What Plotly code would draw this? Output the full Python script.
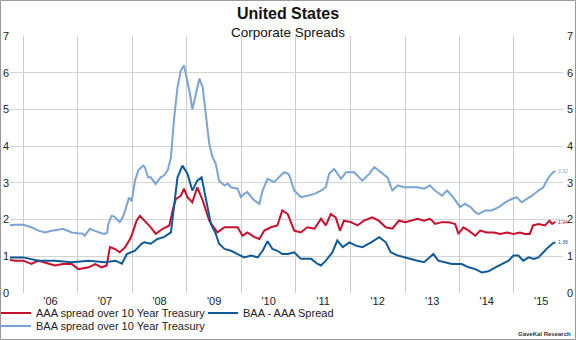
import datetime as dt
import plotly.graph_objects as go

# ---------------- data (decimal years, values in % points) ----------------
baa_t = [2005.74, 2005.85, 2006.0, 2006.08, 2006.15, 2006.28, 2006.35, 2006.40, 2006.50, 2006.58,
         2006.66, 2006.73, 2006.80, 2006.89, 2007.0, 2007.08, 2007.13, 2007.18, 2007.22, 2007.30,
         2007.38, 2007.45, 2007.50, 2007.54, 2007.56, 2007.62, 2007.67, 2007.71, 2007.77, 2007.82,
         2007.87, 2007.94, 2007.99, 2008.05, 2008.11, 2008.20, 2008.23, 2008.29, 2008.34, 2008.43,
         2008.52, 2008.58, 2008.65, 2008.71, 2008.77, 2008.83, 2008.89, 2008.95, 2008.98, 2009.01,
         2009.06, 2009.10, 2009.17, 2009.23, 2009.29, 2009.35, 2009.41, 2009.47, 2009.53, 2009.59,
         2009.69, 2009.75, 2009.81, 2009.93, 2009.99, 2010.05, 2010.11, 2010.18, 2010.24, 2010.33,
         2010.39, 2010.48, 2010.60, 2010.72, 2010.79, 2010.85, 2010.88, 2010.97, 2011.09, 2011.21,
         2011.34, 2011.46, 2011.55, 2011.61, 2011.70, 2011.83, 2011.92, 2012.07, 2012.22, 2012.35,
         2012.44, 2012.56, 2012.68, 2012.77, 2012.87, 2012.99, 2013.11, 2013.23, 2013.35, 2013.46,
         2013.55, 2013.68, 2013.77, 2013.86, 2013.95, 2014.01, 2014.10, 2014.20, 2014.29, 2014.35,
         2014.47, 2014.59, 2014.72, 2014.84, 2014.96, 2015.05, 2015.14, 2015.24, 2015.33, 2015.45,
         2015.54, 2015.60, 2015.66, 2015.72, 2015.76]
baa_v = [1.84, 1.86, 1.86, 1.82, 1.79, 1.70, 1.66, 1.65, 1.69, 1.70,
         1.73, 1.75, 1.70, 1.65, 1.63, 1.62, 1.56, 1.68, 1.75, 1.70,
         1.65, 1.62, 1.61, 1.65, 1.88, 2.10, 2.08, 2.02, 1.93, 2.05,
         2.25, 2.60, 2.50, 3.06, 3.34, 3.47, 3.43, 3.15, 3.15, 2.97,
         3.15, 3.20, 3.34, 3.70, 4.80, 5.60, 6.06, 6.20, 6.00, 5.80,
         5.40, 5.00, 5.50, 5.84, 5.60, 4.88, 4.06, 3.70, 3.52, 3.06,
         2.93, 2.98, 2.88, 2.84, 2.61, 2.70, 2.75, 2.62, 2.52, 2.43,
         2.79, 3.11, 3.02, 3.20, 3.29, 3.25, 3.20, 2.79, 2.61, 2.65,
         2.70, 2.79, 2.88, 3.25, 3.38, 3.11, 3.29, 3.29, 3.06, 3.25,
         3.43, 3.29, 3.15, 2.79, 2.93, 2.88, 2.88, 2.88, 2.84, 2.93,
         2.79, 2.65, 2.79, 2.65, 2.47, 2.34, 2.43, 2.34, 2.20, 2.15,
         2.25, 2.25, 2.34, 2.47, 2.56, 2.61, 2.47, 2.56, 2.65, 2.79,
         2.88, 3.06, 3.20, 3.29, 3.32]

aaa_t = [2005.74, 2005.85, 2006.0, 2006.15, 2006.28, 2006.40, 2006.46, 2006.58, 2006.73, 2006.89,
         2007.01, 2007.10, 2007.20, 2007.32, 2007.44, 2007.53, 2007.59, 2007.68, 2007.77, 2007.87,
         2007.96, 2008.02, 2008.08, 2008.14, 2008.23, 2008.34, 2008.43, 2008.56, 2008.68, 2008.74,
         2008.80, 2008.89, 2008.95, 2009.01, 2009.10, 2009.19, 2009.29, 2009.35, 2009.41, 2009.47,
         2009.56, 2009.69, 2009.81, 2009.93, 2010.02, 2010.11, 2010.24, 2010.33, 2010.42, 2010.54,
         2010.66, 2010.75, 2010.80, 2010.85, 2010.97, 2011.09, 2011.21, 2011.34, 2011.46, 2011.55,
         2011.64, 2011.73, 2011.81, 2011.88, 2012.01, 2012.13, 2012.25, 2012.40, 2012.52, 2012.65,
         2012.77, 2012.89, 2013.01, 2013.13, 2013.23, 2013.35, 2013.45, 2013.50, 2013.55, 2013.68,
         2013.80, 2013.92, 2013.98, 2014.07, 2014.17, 2014.29, 2014.38, 2014.50, 2014.63, 2014.75,
         2014.87, 2014.99, 2015.11, 2015.20, 2015.29, 2015.35, 2015.45, 2015.57, 2015.65, 2015.70,
         2015.76]
aaa_v = [0.90, 0.88, 0.88, 0.79, 0.88, 0.82, 0.79, 0.75, 0.79, 0.79,
         0.65, 0.68, 0.70, 0.79, 0.70, 0.75, 1.25, 1.20, 1.11, 1.25,
         1.47, 1.70, 1.97, 2.10, 1.97, 1.79, 1.61, 1.75, 1.84, 2.25,
         2.56, 2.65, 2.84, 2.61, 2.47, 2.88, 2.52, 2.25, 1.97, 1.84,
         1.65, 1.79, 1.79, 1.79, 1.56, 1.65, 1.52, 1.47, 1.70, 1.79,
         1.84, 2.25, 2.20, 2.15, 1.70, 1.65, 1.79, 1.75, 2.02, 1.84,
         2.15, 2.06, 1.70, 1.97, 1.93, 1.84, 1.97, 2.06, 1.97, 1.79,
         1.75, 1.97, 1.93, 1.97, 2.02, 1.97, 2.02, 1.97, 1.88, 1.93,
         1.93, 1.88, 1.61, 1.79, 1.70, 1.56, 1.70, 1.65, 1.65, 1.61,
         1.65, 1.61, 1.65, 1.61, 1.61, 1.84, 1.88, 1.84, 1.97, 1.88,
         1.94]

diff_t = [2005.74, 2006.0, 2006.28, 2006.58, 2006.89, 2007.20, 2007.50, 2007.69, 2007.81, 2007.90,
          2008.05, 2008.17, 2008.22, 2008.34, 2008.46, 2008.58, 2008.71, 2008.77, 2008.83, 2008.92,
          2009.01, 2009.10, 2009.19, 2009.27, 2009.35, 2009.44, 2009.53, 2009.59, 2009.69, 2009.81,
          2009.93, 2010.05, 2010.18, 2010.30, 2010.39, 2010.48, 2010.57, 2010.66, 2010.75, 2010.85,
          2010.97, 2011.09, 2011.28, 2011.40, 2011.46, 2011.55, 2011.67, 2011.76, 2011.86, 2011.98,
          2012.10, 2012.22, 2012.38, 2012.53, 2012.65, 2012.74, 2012.87, 2012.99, 2013.11, 2013.23,
          2013.35, 2013.46, 2013.52, 2013.61, 2013.74, 2013.86, 2013.95, 2014.04, 2014.17, 2014.29,
          2014.41, 2014.53, 2014.66, 2014.78, 2014.90, 2014.99, 2015.08, 2015.17, 2015.27, 2015.36,
          2015.45, 2015.54, 2015.63, 2015.72, 2015.76]
diff_v = [0.97, 0.97, 0.88, 0.88, 0.84, 0.88, 0.84, 0.88, 0.80, 1.06,
          1.15, 1.34, 1.38, 1.34, 1.47, 1.52, 1.65, 2.34, 3.15, 3.47,
          3.25, 2.79, 3.06, 3.15, 2.52, 1.88, 1.61, 1.34, 1.20, 1.15,
          1.06, 0.97, 1.02, 0.97, 1.15, 1.41, 1.20, 1.15, 1.06, 1.06,
          1.11, 0.93, 0.93, 0.79, 0.75, 0.88, 1.11, 1.43, 1.25, 1.38,
          1.29, 1.25, 1.38, 1.52, 1.38, 1.11, 1.02, 0.97, 0.93, 0.88,
          0.84, 0.97, 1.06, 0.88, 0.84, 0.79, 0.79, 0.79, 0.70, 0.65,
          0.56, 0.59, 0.70, 0.79, 0.88, 1.02, 1.02, 0.88, 0.97, 0.93,
          0.97, 1.11, 1.25, 1.36, 1.38]

series_names = ["AAA spread over 10 Year Treasury", "BAA - AAA Spread",
                "BAA spread over 10 Year Treasury"]

RED = "#c8102e"
DARK = "#0f5a99"
LIGHT = "#7ba4d6"
FONT = "Arial, Liberation Sans, sans-serif"


def to_date(t):
    y = int(t)
    return dt.datetime(y, 1, 1) + dt.timedelta(days=(t - y) * 365.25)


aaa_d = [to_date(t) for t in aaa_t]
diff_d = [to_date(t) for t in diff_t]
baa_d = [to_date(t) for t in baa_t]

fig = go.Figure()
fig.add_trace(go.Scatter(x=aaa_d, y=aaa_v, mode="lines", name=series_names[0],
                         line=dict(color=RED, width=2), legend="legend"))
fig.add_trace(go.Scatter(x=diff_d, y=diff_v, mode="lines", name=series_names[1],
                         line=dict(color=DARK, width=2), legend="legend"))
fig.add_trace(go.Scatter(x=baa_d, y=baa_v, mode="lines", name=series_names[2],
                         line=dict(color=LIGHT, width=2), legend="legend2"))
# invisible trace to carry right-hand axis
fig.add_trace(go.Scatter(x=[baa_d[0]], y=[baa_v[0]], mode="lines", yaxis="y2",
                         showlegend=False, hoverinfo="skip",
                         line=dict(color="rgba(0,0,0,0)")))

# end-value labels
for d, v, c in [(baa_d[-1], baa_v[-1], LIGHT), (aaa_d[-1], aaa_v[-1], RED),
                (diff_d[-1], diff_v[-1], DARK)]:
    fig.add_annotation(x=d, y=v, xref="x", yref="y", text=f"{v:.2f}", showarrow=False,
                       xanchor="left", yanchor="middle", xshift=1,
                       font=dict(family=FONT, size=5, color=c))

x0 = to_date(2005.756)
x1 = to_date(2015.899)

L, R, T, B = 10, 13, 36, 47
PW, PH = 576 - L - R, 340 - T - B


def px(xp):
    return (xp - L) / PW


def py(yp):
    return (340 - B - yp) / PH


fig.update_layout(
    width=576, height=340,
    margin=dict(l=L, r=R, t=T, b=B, autoexpand=False),
    paper_bgcolor="white", plot_bgcolor="white",
    font=dict(family=FONT, size=11, color="#222222"),
    title=dict(text="<b>United States</b>", x=0.5, xanchor="center", xref="container",
               y=1 - 13 / 340, yanchor="middle", yref="container",
               font=dict(family=FONT, size=16, color="#111111")),
    xaxis=dict(type="date", range=[x0, x1], tick0="2006-01-01", dtick="M12",
               ticklabelmode="period", tickformat="'%y", showgrid=True,
               gridcolor="#cccccc", gridwidth=1, ticks="", showline=False,
               zeroline=False, automargin=False,
               tickfont=dict(family=FONT, size=11, color="#222222")),
    yaxis=dict(range=[0, 7], dtick=1, tick0=0, showgrid=True, gridcolor="#d4d4d4",
               gridwidth=1, zeroline=False, ticks="", showline=False, automargin=False,
               tickfont=dict(family=FONT, size=11, color="#222222")),
    yaxis2=dict(range=[0, 7], dtick=1, tick0=0, overlaying="y", side="right",
                showgrid=False, zeroline=False, ticks="", showline=False,
                automargin=False, ticklabelstandoff=3,
                tickfont=dict(family=FONT, size=11, color="#222222")),
    legend=dict(orientation="h", x=px(-4), xanchor="left", y=py(313), yanchor="middle",
                entrywidth=162, entrywidthmode="pixels", bgcolor="rgba(0,0,0,0)",
                font=dict(family=FONT, size=11, color="#222222"), borderwidth=0),
    legend2=dict(orientation="h", x=px(-4), xanchor="left", y=py(326), yanchor="middle",
                 bgcolor="rgba(0,0,0,0)",
                 font=dict(family=FONT, size=11, color="#222222"), borderwidth=0),
    showlegend=True,
)

fig.add_annotation(text="Corporate Spreads", xref="paper", yref="paper",
                   x=px(288), y=py(32), xanchor="center", yanchor="middle", showarrow=False,
                   font=dict(family=FONT, size=13.5, color="#111111"))
fig.add_annotation(text="<b>GaveKal Research</b>", xref="paper", yref="paper",
                   x=px(573), y=py(334), xanchor="right", yanchor="middle", showarrow=False,
                   font=dict(family=FONT, size=6, color="#333333"))

# outer frame
fig.add_shape(type="rect", xref="paper", yref="paper",
              x0=px(0.5), x1=px(575.5), y0=py(339.5), y1=py(0.5),
              line=dict(color="#9a9a9a", width=1), fillcolor="rgba(0,0,0,0)", layer="above")

fig.write_html("out.html")
